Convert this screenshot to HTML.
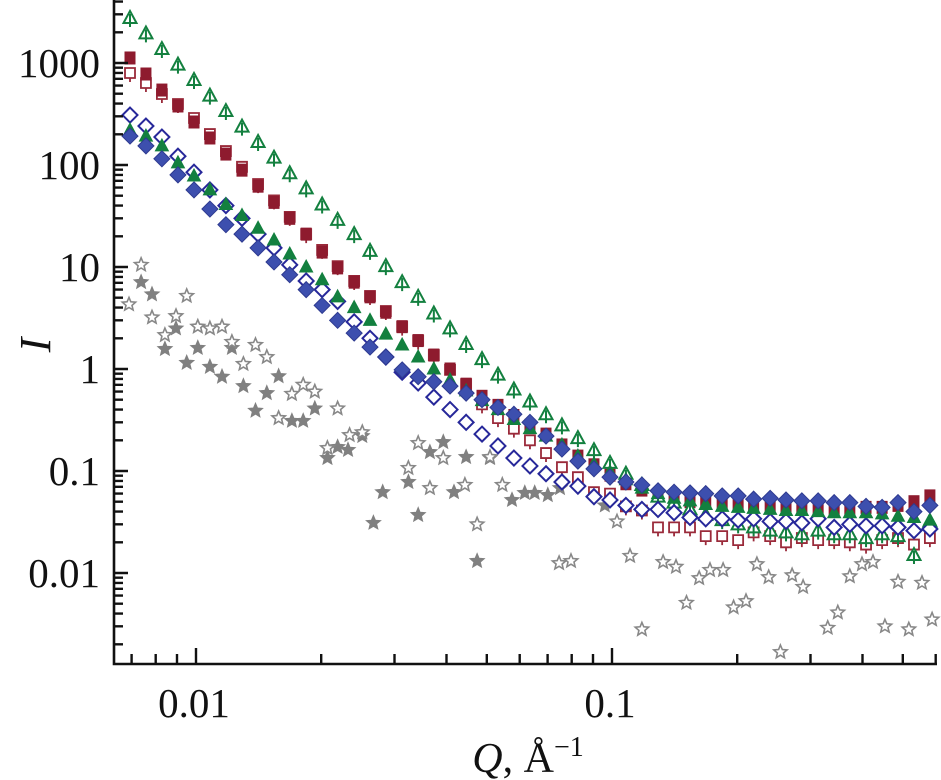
<!DOCTYPE html>
<html><head><meta charset="utf-8"><style>
html,body{margin:0;padding:0;background:#fff;}
svg{display:block;font-family:"Liberation Serif",serif;}
</style></head><body>
<svg id="chart" width="941" height="780" viewBox="0 0 941 780" xmlns="http://www.w3.org/2000/svg">
<g id="marks"></g>
<g id="axes"></g>
</svg>
<script>
const qGrid=[0.00694,0.00758,0.00828,0.00905,0.00989,0.0108,0.0118,0.0129,0.0141,0.0154,0.0168,0.0184,0.0201,0.0219,0.0240,0.0262,0.0286,0.0313,0.0342,0.0373,0.0408,0.0446,0.0487,0.0532,0.0581,0.0635,0.0694,0.0758,0.0828,0.0905,0.0989,0.108,0.118,0.129,0.141,0.154,0.168,0.184,0.201,0.219,0.240,0.262,0.286,0.313,0.342,0.373,0.408,0.446,0.487,0.532,0.581];
const greenOpen=[2760,1950,1370,964,681,479,338,238,168,118,83,59,41,29,21,14.4,10.2,7.1,5.1,3.5,2.5,1.76,1.25,0.88,0.63,0.48,0.36,0.28,0.21,0.16,0.12,0.094,0.073,0.056,0.049,0.042,0.037,0.033,0.030,0.028,0.026,0.025,0.024,0.026,0.024,0.024,0.022,0.024,0.023,0.015,0.032];
const redFilled=[1120,780,543,379,264,184,128,89,62,43,30,21,14,9.8,7.1,5.1,3.6,2.6,1.9,1.37,1.0,0.71,0.54,0.44,0.35,0.28,0.23,0.18,0.14,0.115,0.091,0.075,0.065,0.058,0.052,0.050,0.049,0.048,0.047,0.046,0.046,0.044,0.044,0.044,0.043,0.043,0.044,0.044,0.046,0.050,0.057];
const redOpen=[798,637,497,396,289,201,137,96,65,45,31,21,14.7,10.2,7.3,5.2,3.7,2.6,1.9,1.37,0.98,0.71,0.45,0.33,0.26,0.20,0.15,0.109,0.087,0.062,0.060,0.045,0.041,0.028,0.028,0.028,0.023,0.023,0.021,0.025,0.023,0.020,0.022,0.021,0.021,0.020,0.019,0.021,0.022,0.019,0.022];
const greenFilled=[220,192,154,105,78,57,41,32,24,18.4,13.4,10.0,7.5,5.1,4.0,3.0,2.2,1.72,1.31,1.0,0.78,0.61,0.49,0.40,0.32,0.26,0.22,0.18,0.14,0.117,0.098,0.082,0.068,0.060,0.054,0.051,0.047,0.045,0.044,0.043,0.042,0.041,0.041,0.040,0.039,0.039,0.039,0.038,0.036,0.035,0.033];
const blueFilled=[192,154,115,80,57,37,26,21,15.4,11.2,8.4,6.0,4.2,3.0,2.25,1.64,1.31,0.98,0.84,0.75,0.68,0.58,0.50,0.42,0.36,0.30,0.22,0.164,0.125,0.105,0.087,0.078,0.073,0.064,0.062,0.061,0.060,0.057,0.057,0.053,0.054,0.052,0.051,0.051,0.049,0.049,0.045,0.044,0.049,0.040,0.046];
const blueOpen=[309,241,188,122,85,57,40,30,21,15.4,10.5,7.3,6.0,4.6,2.9,2.0,1.31,0.93,0.73,0.53,0.40,0.30,0.23,0.176,0.134,0.112,0.094,0.078,0.071,0.056,0.052,0.046,0.042,0.042,0.039,0.035,0.034,0.034,0.033,0.034,0.032,0.032,0.031,0.034,0.028,0.030,0.029,0.029,0.028,0.026,0.027];
const starOpenQ=[0.0069,0.00738,0.00784,0.00842,0.00895,0.0095,0.0101,0.0108,0.01155,0.0122,0.0130,0.0139,0.0148,0.0158,0.0170,0.0181,0.0193,0.0207,0.0219,0.0234,0.0251,0.0324,0.0342,0.0365,0.0393,0.0443,0.0474,0.0509,0.0545,0.0746,0.0797,0.1028,0.1105,0.118,0.1327,0.1425,0.151,0.162,0.172,0.185,0.196,0.210,0.223,0.238,0.254,0.271,0.288,0.330,0.349,0.373,0.399,0.424,0.453,0.487,0.517,0.556,0.588];
const starOpenI=[4.3,10.5,3.2,2.15,3.3,5.2,2.6,2.5,2.6,1.84,1.12,1.72,1.31,0.33,0.57,0.70,0.60,0.168,0.41,0.225,0.24,0.107,0.188,0.068,0.134,0.073,0.030,0.137,0.073,0.0125,0.0131,0.032,0.0147,0.0028,0.0128,0.0115,0.0051,0.0089,0.0107,0.0107,0.0046,0.0053,0.0122,0.0091,0.00168,0.0095,0.0073,0.0029,0.0041,0.0093,0.0122,0.0128,0.0030,0.0082,0.0028,0.0080,0.0035];
const starFilledQ=[0.00738,0.00784,0.00842,0.00895,0.0095,0.0101,0.0108,0.01155,0.0122,0.0130,0.0139,0.0148,0.0158,0.0170,0.0181,0.0193,0.0207,0.0219,0.0232,0.0251,0.0267,0.0281,0.0324,0.0342,0.0365,0.0393,0.0417,0.0446,0.0474,0.0509,0.0575,0.0617,0.0652,0.0701,0.0750,0.0961];
const starFilledI=[7.1,5.4,1.57,2.5,1.15,1.61,1.05,0.84,1.61,0.68,0.39,0.58,0.85,0.31,0.31,0.41,0.134,0.172,0.161,0.22,0.031,0.062,0.078,0.037,0.153,0.192,0.062,0.137,0.0131,0.134,0.052,0.061,0.061,0.058,0.068,0.046];
const yTickVals=[0.01,0.1,1,10,100,1000];
const yTickLabels=["0.01","0.1","1","10","100","1000"];
const xTickVals=[0.01,0.1];
const xTickLabels=["0.01","0.1"];

const X0=114,X1=937,Y0=0,Y1=664;
function xs(q){return 196+416*(Math.log10(q)+2);}
function ys(v){return 369-102*Math.log10(v);}
const NS="http://www.w3.org/2000/svg";
const marks=document.getElementById('marks');
const axes=document.getElementById('axes');
function mk(tag,attrs,parent){const e=document.createElementNS(NS,tag);for(const k in attrs)e.setAttribute(k,attrs[k]);parent.appendChild(e);return e;}
function starPts(cx,cy,r){let p=[];for(let i=0;i<10;i++){const a=-Math.PI/2+i*Math.PI/5;const rr=i%2?r*0.45:r;p.push((cx+rr*Math.cos(a)).toFixed(1)+','+(cy+rr*Math.sin(a)).toFixed(1));}return p.join(' ');}

function drawSeries(qs,vals,kind,name){
  const g=mk('g',{},marks);
  
  
  for(let i=0;i<vals.length;i++){
    const cx=xs(qs[i]),cy=ys(vals[i]);let el;
    if(kind==='greenOpen'){el=mk('path',{d:`M${cx} ${cy-7}L${cx+6.5} ${cy+5}L${cx-6.5} ${cy+5}Z M${cx} ${cy-4}V${cy+9}`,fill:'#fff',stroke:'#13803f','stroke-width':2},g);}
    else if(kind==='greenFilled'){el=mk('path',{d:`M${cx} ${cy-7}L${cx+6.5} ${cy+5}L${cx-6.5} ${cy+5}Z`,fill:'#13803f',stroke:'#13803f','stroke-width':1},g);}
    else if(kind==='redFilled'){el=mk('rect',{x:cx-5,y:cy-6,width:10,height:12,fill:'#8e1b2e',stroke:'#8e1b2e','stroke-width':1},g);}
    else if(kind==='redOpen'){el=mk('path',{d:`M${cx-5} ${cy-5}h10v10h-10Z M${cx} ${cy+5}V${cy+9}`,fill:'#fff',stroke:'#9a2a3a','stroke-width':1.8},g);}
    else if(kind==='blueFilled'){el=mk('path',{d:`M${cx} ${cy-8}L${cx+8} ${cy}L${cx} ${cy+8}L${cx-8} ${cy}Z`,fill:'#3d4fae',stroke:'#2e3a90','stroke-width':1},g);}
    else if(kind==='blueOpen'){el=mk('path',{d:`M${cx} ${cy-7.5}L${cx+7.5} ${cy}L${cx} ${cy+7.5}L${cx-7.5} ${cy}Z`,fill:'#fff',stroke:'#27289a','stroke-width':2},g);}
    else if(kind==='starOpen'){el=mk('polygon',{points:starPts(cx,cy,7),fill:'#fff',stroke:'#888','stroke-width':1.6},g);}
    else {el=mk('polygon',{points:starPts(cx,cy,7.5),fill:'#808080',stroke:'#808080','stroke-width':1},g);}
    
    
  }
}
drawSeries(starFilledQ,starFilledI,'starFilled','filled-star-series');
drawSeries(starOpenQ,starOpenI,'starOpen','open-star-series');
drawSeries(qGrid,redOpen,'redOpen','red-open-square-series');
drawSeries(qGrid,redFilled,'redFilled','red-filled-square-series');
drawSeries(qGrid,greenOpen,'greenOpen','green-open-triangle-series');
drawSeries(qGrid,blueOpen,'blueOpen','blue-open-diamond-series');
drawSeries(qGrid,greenFilled,'greenFilled','green-filled-triangle-series');
drawSeries(qGrid,blueFilled,'blueFilled','blue-filled-diamond-series');

const al=mk('path',{d:`M${X0} ${Y0}V${Y1}H${X1}`,fill:'none',stroke:'#111','stroke-width':2.6},axes);


let td='';
for(let e=-3;e<=3;e++){for(let m=1;m<=9;m++){const v=m*Math.pow(10,e);const y=ys(v);if(y<Y0||y>Y1-2)continue;td+=`M${X0} ${y.toFixed(1)}h${m===1?14:9}`;}}
for(let e=-3;e<=0;e++){for(let m=1;m<=9;m++){const v=m*Math.pow(10,e);const x=xs(v);if(x<X0+2||x>X1+1)continue;td+=`M${x.toFixed(1)} ${Y1}v${m===1?-16:-10}`;}}
const tk=mk('path',{d:td,fill:'none',stroke:'#111','stroke-width':2.4},axes);


for(let i=0;i<yTickVals.length;i++){
  const t=mk('text',{x:100,y:ys(yTickVals[i])+14,'text-anchor':'end','font-size':41,fill:'#111','font-family':'Liberation Serif, serif'},axes);
  t.textContent=yTickLabels[i];
  
  
}
for(let i=0;i<xTickVals.length;i++){
  const t=mk('text',{x:xs(xTickVals[i])-2,y:717,'text-anchor':'middle','font-size':41,fill:'#111','font-family':'Liberation Serif, serif'},axes);
  t.textContent=xTickLabels[i];
  
  
}
</script>
<svg style="position:absolute;left:0;top:0" width="941" height="780">
<text x="0" y="0" transform="translate(50,345) rotate(-90)" text-anchor="middle" font-family="Liberation Serif, serif" font-style="italic" font-size="44" fill="#111">I</text>
<text x="528" y="772" text-anchor="middle" font-family="Liberation Serif, serif" font-size="42" fill="#111"><tspan font-style="italic">Q</tspan>, Å<tspan font-size="28" dy="-16">−1</tspan></text>
</svg>
</body></html>
